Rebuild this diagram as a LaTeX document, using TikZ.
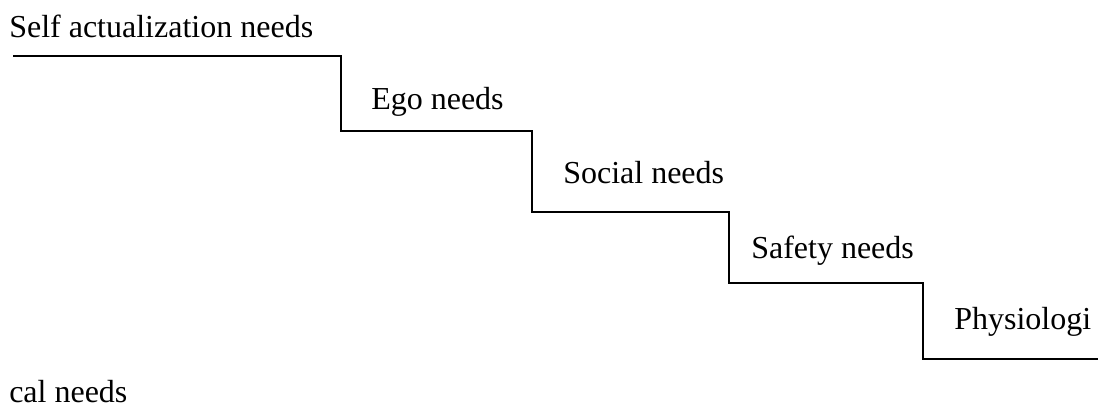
\documentclass[tikz,border=0pt]{standalone}
\usepackage{fontspec}
\setmainfont{Liberation Serif}
\usepackage{tikz}
\usetikzlibrary{positioning}

\begin{document}
\begin{tikzpicture}[
        x=0.75pt, y=-0.75pt,
        every node/.style={font=\fontsize{24}{28}\selectfont, inner sep=0pt, anchor=base west},
        stair/.style={line width=1.1pt, line join=miter},
      ]
      \useasboundingbox (0,0) rectangle (1100,408);

      % Treppe
      \draw[stair] (13,56) -- (341,56) -- (341,131) -- (532,131) -- (532,212)
        -- (729,212) -- (729,283) -- (923,283) -- (923,359) -- (1098,359);

      % Stufen
      \node (self)   at (9,37)    {Self actualization needs};
      \node (ego)    at (371,109) {Ego needs};
      \node (social) at (563,183) {Social needs};
      \node (safety) at (751,258) {Safety needs};
      \node (phys)   at (954,329) {Physiologi};
      \node (cal)    at (9,402)   {cal needs};
    \end{tikzpicture}
\end{document}
